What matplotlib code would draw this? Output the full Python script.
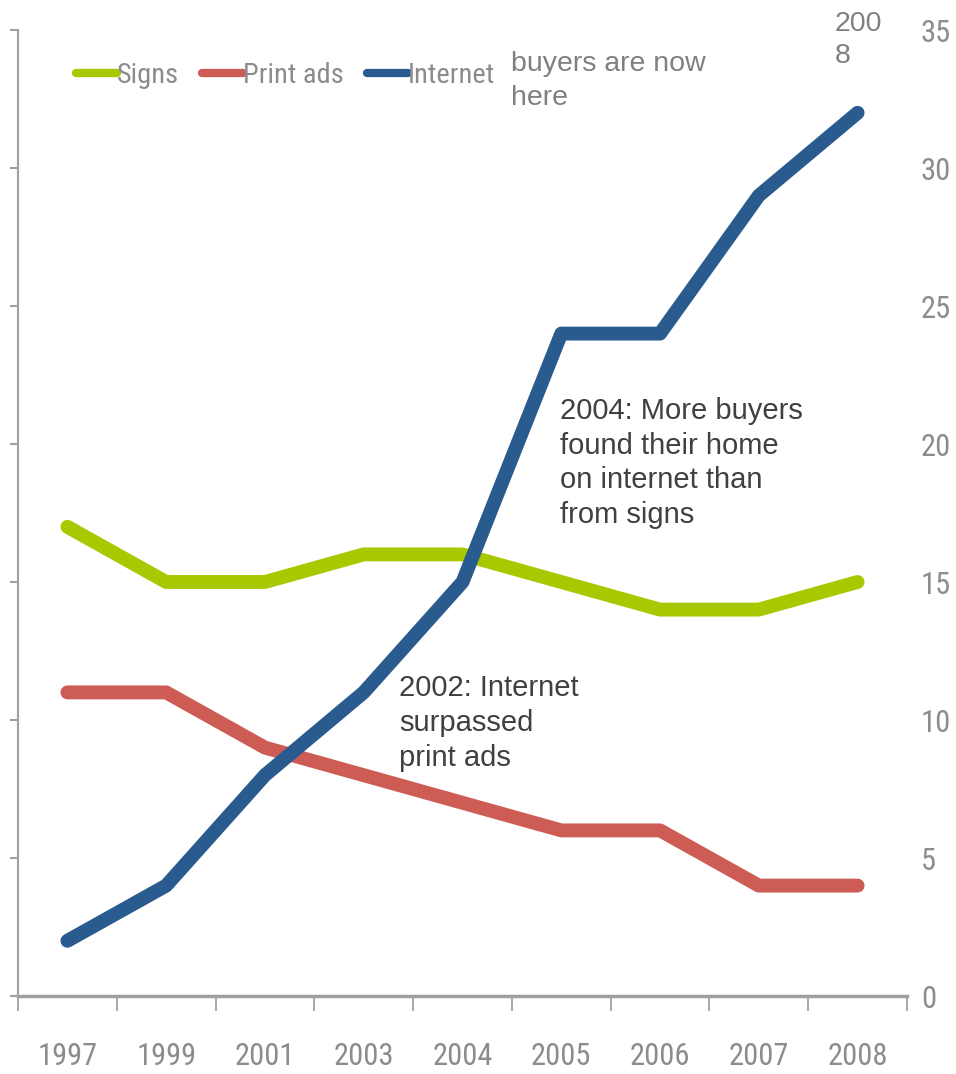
import matplotlib
matplotlib.use("Agg")
import matplotlib.pyplot as plt
import numpy as np

years = ["1997", "1999", "2001", "2003", "2004", "2005", "2006", "2007", "2008"]
signs = [17, 15, 15, 16, 16, 15, 14, 14, 15]
print_ads = [11, 11, 9, 8, 7, 6, 6, 4, 4]
internet = [2, 4, 8, 11, 15, 24, 24, 29, 32]

GREEN = "#A8C800"
RED = "#CD5C55"
BLUE = "#2A5B8F"
GRAY = "#8C8C8C"
# condensed face for axis labels, falling back to regular sans if missing
NARROW = ["Arial Narrow", "Liberation Sans Narrow", "Roboto Condensed",
          "Archivo Narrow", "PT Sans Narrow", "Liberation Sans", "DejaVu Sans"]
BODY = ["Liberation Sans", "DejaVu Sans"]

fig = plt.figure(figsize=(9.56, 10.74), dpi=100)
ax = fig.add_axes([18 / 956, 1 - 996 / 1074, (907 - 18) / 956, (996 - 30) / 1074])

x = np.arange(len(years))
kw = dict(linewidth=10, solid_capstyle="round", solid_joinstyle="round")
ax.plot(x, signs, color=GREEN, label="Signs", zorder=3, **kw)
ax.plot(x, print_ads, color=RED, label="Print ads", zorder=3, **kw)
ax.plot(x, internet, color=BLUE, label="Internet", zorder=4, **kw)

ax.set_xlim(-0.5, len(years) - 0.5)
ax.set_ylim(0, 35)

# spines
for s in ["top", "right"]:
    ax.spines[s].set_visible(False)
ax.spines["left"].set_color("#A0A0A0")
ax.spines["left"].set_linewidth(1.5)
ax.spines["bottom"].set_color("#A0A0A0")
ax.spines["bottom"].set_linewidth(2.5)

# y: ticks on left, labels on right
ax.set_yticks(np.arange(0, 36, 5))
ax.tick_params(axis="y", left=True, right=False, labelleft=False, labelright=True,
               direction="out", length=6, width=1.5, color="#A0A0A0", pad=4,
               labelsize=22, labelcolor=GRAY)
for lbl in ax.get_yticklabels():
    lbl.set_family(NARROW)

# x: labels at centres, tick marks at boundaries
ax.set_xticks(x)
ax.set_xticklabels(years, family=NARROW, fontsize=22, color=GRAY)
ax.set_xticks(np.arange(-0.5, len(years)), minor=True)
ax.tick_params(axis="x", which="major", length=0, pad=33)
ax.tick_params(axis="x", which="minor", direction="out", length=11, width=1.3,
               color="#A0A0A0")

leg = ax.legend(loc="upper left", bbox_to_anchor=(0.036, 0.993), ncol=3, frameon=False,
                handlelength=1.45, handletextpad=0.0, columnspacing=0.8,
                prop={"family": NARROW, "size": 20.5})
for t in leg.get_texts():
    t.set_color(GRAY)
for h in leg.get_lines():
    h.set_linewidth(6)

ax.text(4.49, 34.25, "buyers are now\nhere", fontsize=20.5, family=BODY, color="#808080",
        va="top", ha="left", linespacing=1.4)
ax.text(7.77, 35.7, "200\n8", fontsize=20.5, family=BODY, color="#808080",
        va="top", ha="left", linespacing=1.3, clip_on=False)
ax.text(4.99, 21.7, "2004: More buyers\nfound their home\non internet than\nfrom signs",
        fontsize=21, family=BODY, color="#404040", va="top", ha="left", linespacing=1.3)
ax.text(3.36, 11.65, "2002: Internet\nsurpassed\nprint ads",
        fontsize=21, family=BODY, color="#404040", va="top", ha="left", linespacing=1.3)

fig.savefig("out.png", dpi=100)
